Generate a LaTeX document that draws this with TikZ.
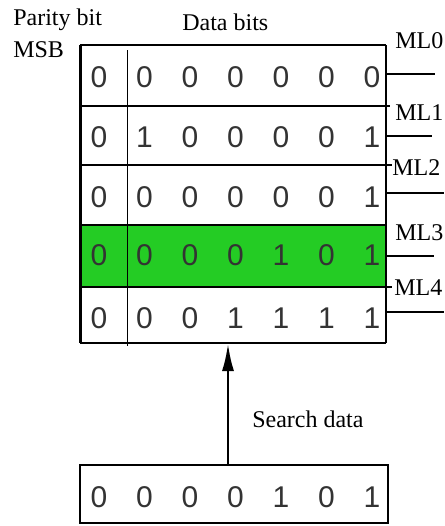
\documentclass[tikz,border=0pt]{standalone}
\usepackage{fontspec}
\setmainfont{Liberation Serif}
\newfontfamily\digitfont{Liberation Sans}
\usetikzlibrary{arrows.meta}
\definecolor{matchgreen}{RGB}{36,204,36}
\tikzset{
  bit/.style={font=\digitfont\fontsize{22.5}{24}\selectfont, text=black!80, inner sep=0pt},
  lbl/.style={font=\fontsize{18}{20}\selectfont, inner sep=0pt, anchor=base west},
  mline/.style={line width=0.9pt},
}

\begin{document}
\begin{tikzpicture}[x=0.75pt,y=0.75pt,yscale=-1,xscale=1]
\useasboundingbox (0,0) rectangle (444,526);
% table frame
\coordinate (tl) at (80,45);
\coordinate (br) at (386,343);
\fill[matchgreen] (80,225) rectangle (386,287);
\draw [line width=0.9pt] (80,106) -- (390,106);
\draw [line width=0.9pt] (80,165) -- (392,165);
\draw [line width=0.9pt] (80,225) -- (386,225);
\draw [line width=0.9pt] (80,287) -- (392,287);
\draw [line width=1.1pt] (tl) -- (tl -| br);
\draw [line width=0.9pt] (tl -| br) -- (br);
\draw [line width=1.9pt] (br) -- (br -| tl);
\draw [line width=2.25pt] (tl) -- (br -| tl);
\draw [line width=0.75pt] (127,50) -- (127,346);
% stored words
\foreach \y/\bits [count=\r from 0] in {77/{0,0,0,0,0,0,0},137/{0,1,0,0,0,0,1},197/{0,0,0,0,0,0,1},255/{0,0,0,0,1,0,1},318/{0,0,0,1,1,1,1}}
  \foreach \b [count=\c] in \bits
    \node[bit] (b\r-\c) at ({99+45.5*(\c-1)},\y) {\b};
% match lines
\foreach \y/\len/\lx/\ly [count=\r from 0] in {74/49/395/48,136/46/395/120,193/58/392/175,256/48/395/240,312/58/394/295}{
  \coordinate (m\r) at (386,\y);
  \draw [mline] (m\r) -- ++(\len,0);
  \node[lbl] (ml\r) at (\lx,\ly) {ML\r};
}
\node[lbl] (parity) at (13,25) {Parity bit};
\node[lbl] (msb) at (13,57) {MSB};
\node[lbl] (data) at (182,30) {Data bits};
% search word
\coordinate (stl) at (80,465);
\coordinate (sbr) at (388,523);
\draw [line width=1.9pt] (stl) rectangle (sbr);
\foreach \b [count=\c] in {0,0,0,0,1,0,1}
  \node[bit] (s\c) at ({99+45.5*(\c-1)},497) {\b};
\coordinate (sd) at (228,465);
\draw [line width=2.2pt, -{Latex[length=21pt,width=9pt]}] (sd) -- (sd |- br);
\node[lbl] (search) at (252,427) {Search data};
\end{tikzpicture}
\end{document}
